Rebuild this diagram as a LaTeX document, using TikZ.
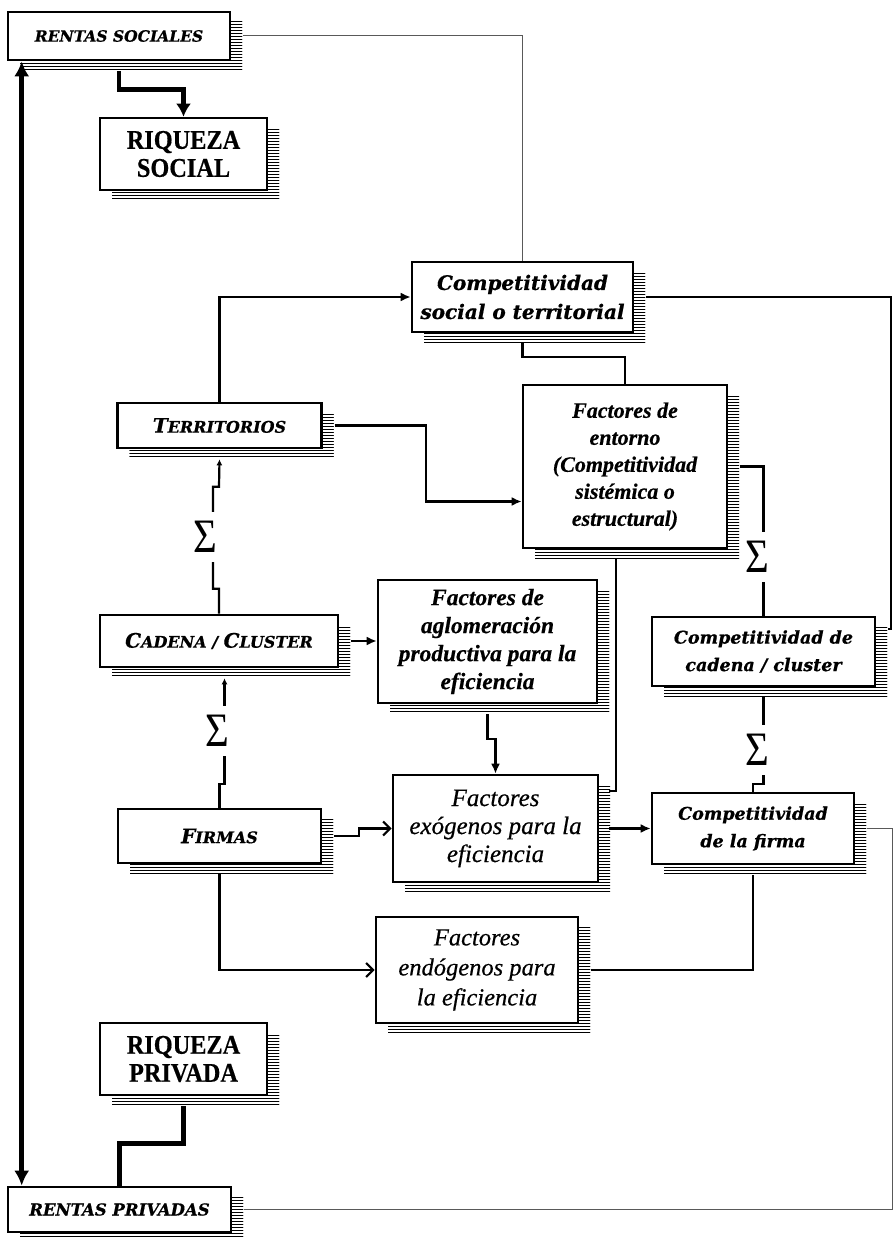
\documentclass[tikz,border=0pt]{standalone}
\usepackage{fontspec}
\usepackage{graphicx}
\setmainfont{Liberation Serif}
\newfontfamily\dvs[FakeBold=0.7]{DejaVu Serif}
\newfontfamily\libh[FakeBold=0.5]{Liberation Serif}
\usetikzlibrary{arrows.meta,shadows,patterns}
\pgfdeclarepatternformonly{shlines}{\pgfpoint{-1pt}{-1pt}}{\pgfpoint{4pt}{4pt}}{\pgfpoint{3pt}{3pt}}{%
  \pgfsetlinewidth{1.5pt}\pgfpathmoveto{\pgfpoint{-1pt}{1.5pt}}\pgfpathlineto{\pgfpoint{4pt}{1.5pt}}\pgfusepath{stroke}}
\newcommand{\mysc}[2]{{\fontsize{20}{22}\selectfont #1}{\fontsize{16}{22}\selectfont #2}}
\newcommand{\sigmachar}{\scalebox{0.85}[1]{Σ}}
\begin{document}
\begin{tikzpicture}[x=1pt,y=-1pt,
 box/.style={draw, line width=2.6pt, fill=white, inner sep=0pt, align=center,
   general shadow={pattern=shlines, shadow xshift=12pt, shadow yshift=-10pt}},
 conn/.style={line width=2.2pt},
 thk/.style={line width=4.8pt},
 thn/.style={line width=1pt, black!65},
 fa/.style={arrows={-Latex[length=10pt,width=9pt]}},
 oa/.style={arrows={-Straight Barb[length=7pt,width=14pt]}},
 ba/.style={arrows={-Latex[length=13pt,width=15pt]}},
 dba/.style={arrows={Latex[length=15pt,width=15pt]-Latex[length=15pt,width=15pt]}},
 sa/.style={arrows={-Latex[length=6pt,width=6pt]}},
 sig/.style={fill=white, inner xsep=0pt, inner ysep=9pt, font=\fontsize{48}{48}\selectfont},
 fRent/.style={font=\dvs\bfseries\itshape\fontsize{15.5}{18}\selectfont},
 fRentP/.style={font=\dvs\bfseries\itshape\fontsize{16.5}{18}\selectfont},
 fRiq/.style={font=\libh\bfseries\fontsize{27}{28}\selectfont},
 fComp/.style={font=\dvs\bfseries\itshape\fontsize{20}{29}\selectfont},
 fCompS/.style={font=\dvs\bfseries\itshape\fontsize{17.5}{27.5}\selectfont},
 fSc/.style={font=\dvs\bfseries\itshape\fontsize{16}{18}\selectfont},
 fFac/.style={font=\libh\bfseries\itshape\fontsize{22}{27}\selectfont},
 fFacA/.style={font=\libh\bfseries\itshape\fontsize{23.5}{28}\selectfont},
 fFacE/.style={font=\libh\itshape\fontsize{25}{28}\selectfont},
 fFacN/.style={font=\libh\itshape\fontsize{24.5}{30}\selectfont},
]
\useasboundingbox[fill=white] (0,0) rectangle (893,1238);

% boxes
\node[box, fRent, minimum width=222pt, minimum height=48pt] (RS) at (119,36) {RENTAS SOCIALES};
\node[box, fRiq, minimum width=167pt, minimum height=72pt] (RQS) at (183.5,154) {\scalebox{0.9}[1]{RIQUEZA}\\\scalebox{0.9}[1]{SOCIAL}};
\node[box, fComp, minimum width=221pt, minimum height=70pt] (CST) at (522.5,297) {Competitividad\\social o territorial};
\node[box, fSc, minimum width=204pt, minimum height=45pt] (TER) at (219.5,425.5) {\mysc{T}{ERRITORIOS}};
\node[box, fFac, minimum width=204pt, minimum height=163pt] (ENT) at (625,466.5) {Factores de\\entorno\\(Competitividad\\sistémica o\\estructural)};
\node[box, fSc, minimum width=238pt, minimum height=52pt] (CAD) at (219,641) {\mysc{C}{ADENA} / \mysc{C}{LUSTER}};
\node[box, fFacA, minimum width=219pt, minimum height=123pt] (AGL) at (487.5,641.5) {Factores de\\aglomeración\\productiva para la\\eficiencia};
\node[box, fCompS, minimum width=223pt, minimum height=69pt] (CCC) at (763.5,651.5) {Competitividad de\\cadena / cluster};
\node[box, fFacE, minimum width=205pt, minimum height=107pt] (EXO) at (495.5,828.5) {Factores\\exógenos para la\\eficiencia};
\node[box, fCompS, minimum width=202pt, minimum height=71pt] (CFI) at (753,828.5) {Competitividad\\de la firma};
\node[box, fSc, minimum width=203pt, minimum height=54pt] (FIR) at (219.5,836) {\mysc{F}{IRMAS}};
\node[box, fFacN, minimum width=202pt, minimum height=106pt] (END) at (477,970) {Factores\\endógenos para\\la eficiencia};
\node[box, fRiq, minimum width=167pt, minimum height=72pt] (RQP) at (183.5,1059) {\scalebox{0.9}[1]{RIQUEZA}\\\scalebox{0.9}[1]{PRIVADA}};
\node[box, fRentP, minimum width=223pt, minimum height=45pt] (RP) at (119.5,1209.5) {RENTAS PRIVADAS};

% connectors
\draw[thn] ([xshift=12pt]RS.east) -| (CST.north);
\draw[thk, ba] ([yshift=-10pt]RS.south) -- ++(0,18) -| (RQS.north);
\draw[thk, dba] ([xshift=15pt]RS.south west) -- ([xshift=15pt]RP.north west);
\draw[conn] ([xshift=12pt]CST.east) -| ([xshift=15pt,yshift=-13pt]CCC.north east) -- ([xshift=12pt,yshift=-13pt]CCC.north east);
\draw[conn, fa] (TER.north) |- (CST.west);
\draw[conn, fa] ([xshift=12pt]TER.east) -- ++(91,0) |- ([yshift=-35pt]ENT.west);
\draw[conn] (ENT.north) -- ++(0,-27) -| ([yshift=-10pt]CST.south);
\draw[conn] ([xshift=12pt]ENT.east) -| (CCC.north);
\draw[conn] ([yshift=-10pt]CCC.south) |- ([yshift=8pt]CFI.north) -- (CFI.north);
\draw[conn, sa] (CAD.north) -- ++(0,-25) -- ++(-6,0) -- ++(0,-102) -- ++(6,0) -- ([yshift=-10pt]TER.south);
\draw[conn, sa] (FIR.north) -- ++(0,-24) -- ++(5,0) -- ([xshift=5.5pt,yshift=-10pt]CAD.south);
\draw[conn] ([xshift=-9pt,yshift=-10pt]ENT.south) |- ([xshift=10pt,yshift=-17pt]EXO.north east);
\draw[conn, fa] ([yshift=-10pt]AGL.south) -- ++(0,25) -| (EXO.north);
\draw[conn, fa] ([xshift=12pt]CAD.east) -- (CAD.east -| AGL.west);
\draw[conn, oa] ([xshift=12pt]FIR.east) -- ++(25,0) |- (EXO.west);
\draw[conn, oa] ([yshift=-10pt]FIR.south) |- (END.west);
\draw[conn] ([xshift=12pt]END.east) -| ([yshift=-10pt]CFI.south);
\draw[conn, fa] ([xshift=10pt]EXO.east) -- (CFI.west);
\draw[thn] ([xshift=12pt]CFI.east) -- ++(25,0) |- ([xshift=12pt]RP.east);
\draw[thk] ([yshift=-10pt]RQP.south) -- ++(0,37) -| (RP.north);

% sums
\node[sig] (S1) at (205,537) {\sigmachar};
\node[sig] (S2) at (217,731) {\sigmachar};
\node[sig] (S3) at (757,557) {\sigmachar};
\node[sig] (S4) at (757,750) {\sigmachar};
\end{tikzpicture}
\end{document}
